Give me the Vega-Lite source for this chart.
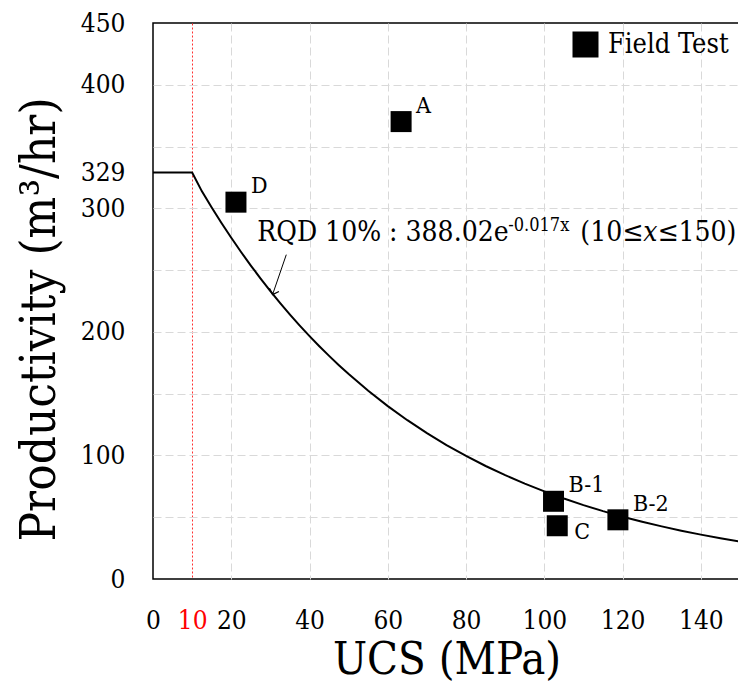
{
  "$schema": "https://vega.github.io/schema/vega-lite/v6.json",
  "width": 587,
  "height": 556,
  "autosize": "none",
  "padding": {"left": 153, "top": 23, "right": 0, "bottom": 114},
  "background": "white",
  "config": {
    "view": {"stroke": "black", "strokeWidth": 1.5},
    "font": "DejaVu Serif Condensed",
    "text": {"font": "DejaVu Serif Condensed", "color": "black"}
  },
  "datasets": {
    "curve": [
      {"x": 0, "y": 329}, {"x": 10, "y": 329}, {"x": 12.5, "y": 313.73}, {"x": 15, "y": 300.68},
      {"x": 17.5, "y": 288.17}, {"x": 20, "y": 276.18}, {"x": 22.5, "y": 264.69}, {"x": 25, "y": 253.68},
      {"x": 27.5, "y": 243.12}, {"x": 30, "y": 233.01}, {"x": 32.5, "y": 223.31}, {"x": 35, "y": 214.02},
      {"x": 37.5, "y": 205.12}, {"x": 40, "y": 196.58}, {"x": 42.5, "y": 188.4}, {"x": 45, "y": 180.56},
      {"x": 47.5, "y": 173.05}, {"x": 50, "y": 165.85}, {"x": 55, "y": 152.33}, {"x": 60, "y": 139.92},
      {"x": 65, "y": 128.52}, {"x": 70, "y": 118.04}, {"x": 75, "y": 108.43}, {"x": 80, "y": 99.59},
      {"x": 85, "y": 91.47}, {"x": 90, "y": 84.02}, {"x": 95, "y": 77.17}, {"x": 100, "y": 70.89},
      {"x": 105, "y": 65.11}, {"x": 110, "y": 59.8}, {"x": 115, "y": 54.93}, {"x": 120, "y": 50.45},
      {"x": 125, "y": 46.34}, {"x": 130, "y": 42.57}, {"x": 135, "y": 39.1}, {"x": 140, "y": 35.91},
      {"x": 145, "y": 32.99}, {"x": 150, "y": 30.3}
    ],
    "field": [
      {"x": 63.4, "y": 370.2, "label": "A", "series": "Field Test"},
      {"x": 21.2, "y": 305.0, "label": "D", "series": "Field Test"},
      {"x": 102.35, "y": 62.9, "label": "B-1", "series": "Field Test"},
      {"x": 103.3, "y": 43.1, "label": "C", "series": "Field Test"},
      {"x": 118.8, "y": 47.9, "label": "B-2", "series": "Field Test"}
    ],
    "note": [
      {"x": 26.65, "y": 273.3, "t": "RQD 10% : 388.02e"},
      {"x": 109.2, "y": 273.3, "t": "(10≤"},
      {"x": 128.9, "y": 273.3, "t": "≤150)"}
    ],
    "noteSup": [{"x": 90.8, "y": 281.4, "t": "-0.017x"}],
    "noteItalic": [{"x": 125.3, "y": 273.3, "t": "x"}],
    "arrow": [{"x": 34.06, "y": 262.5, "x2": 30.56, "y2": 230.2}],
    "arrowHead": [{"x": 30.56, "y": 230.2}]
  },
  "encoding": {
    "x": {
      "field": "x", "type": "quantitative",
      "scale": {"domain": [0, 150], "nice": false, "zero": false},
      "axis": {
        "title": "UCS (MPa)",
        "values": [0, 10, 20, 40, 60, 80, 100, 120, 140],
        "ticks": false, "domain": false,
        "labelFont": "DejaVu Serif Condensed", "labelFontSize": 26,
        "labelColor": {"condition": {"test": "datum.value === 10", "value": "#ff0000"}, "value": "#000000"},
        "labelPadding": 28, "labelFlush": false, "labelOverlap": false, "labelBound": false,
        "grid": true,
        "gridColor": {"condition": {"test": "datum.value === 10", "value": "#ff3030"}, "value": "#d9d9d9"},
        "gridDash": {"condition": {"test": "datum.value === 10", "value": [2, 2]}, "value": [8, 4]},
        "gridOpacity": {"condition": {"test": "datum.value === 0", "value": 0}, "value": 1},
        "gridWidth": 1,
        "titleFont": "DejaVu Serif Condensed", "titleFontSize": 45, "titleFontWeight": "normal",
        "titleColor": "black", "titleX": 293.5, "titleY": 94, "titleAlign": "center",
        "titleBaseline": "alphabetic", "titleAnchor": null
      }
    },
    "y": {
      "field": "y", "type": "quantitative",
      "scale": {"domain": [0, 450], "nice": false, "zero": false},
      "axis": {
        "title": "Productivity (m³/hr)",
        "values": [0, 50, 100, 150, 200, 250, 300, 329, 350, 400, 450],
        "labelExpr": "(datum.value % 100 === 0 || datum.value === 329 || datum.value === 450) ? datum.label : ''",
        "ticks": false, "domain": false,
        "labelFont": "DejaVu Serif Condensed", "labelFontSize": 26, "labelColor": "black",
        "labelPadding": 28, "labelOverlap": false, "labelBound": false, "labelFlush": false,
        "grid": true,
        "gridColor": "#d9d9d9",
        "gridOpacity": {"condition": {"test": "datum.value === 329 || datum.value === 0 || datum.value === 450", "value": 0}, "value": 1},
        "gridDash": [8, 4], "gridWidth": 1,
        "titleFont": "DejaVu Serif Condensed", "titleFontSize": 49, "titleFontWeight": "normal",
        "titleColor": "black", "titleX": -98.4, "titleY": 296, "titleAlign": "center",
        "titleBaseline": "alphabetic", "titleAngle": -90, "titleAnchor": null
      }
    }
  },
  "layer": [
    {
      "data": {"name": "curve"},
      "mark": {"type": "line", "color": "black", "strokeWidth": 2, "interpolate": "linear"}
    },
    {
      "data": {"name": "field"},
      "mark": {"type": "point", "shape": "square", "filled": true, "size": 441, "opacity": 1},
      "encoding": {
        "color": {
          "field": "series", "type": "nominal",
          "scale": {"range": ["black"]},
          "legend": {
            "orient": "none", "legendX": 419, "legendY": 8, "title": null,
            "symbolType": "square", "symbolSize": 600, "symbolFillColor": "black",
            "symbolStrokeColor": "black", "symbolOpacity": 1,
            "labelFont": "DejaVu Serif Condensed", "labelFontSize": 27, "labelOffset": 9,
            "labelColor": "black", "padding": 0
          }
        }
      }
    },
    {
      "data": {"name": "field"},
      "transform": [{"filter": "datum.label !== 'C'"}],
      "mark": {"type": "text", "align": "left", "baseline": "alphabetic", "dx": 15, "dy": -9, "fontSize": 23},
      "encoding": {"text": {"field": "label"}}
    },
    {
      "data": {"name": "field"},
      "transform": [{"filter": "datum.label === 'C'"}],
      "mark": {"type": "text", "align": "left", "baseline": "alphabetic", "dx": 17, "dy": 13, "fontSize": 23},
      "encoding": {"text": {"field": "label"}}
    },
    {
      "data": {"name": "note"},
      "mark": {"type": "text", "align": "left", "baseline": "alphabetic", "fontSize": 28},
      "encoding": {"text": {"field": "t"}}
    },
    {
      "data": {"name": "noteSup"},
      "mark": {"type": "text", "align": "left", "baseline": "alphabetic", "fontSize": 18},
      "encoding": {"text": {"field": "t"}}
    },
    {
      "data": {"name": "noteItalic"},
      "mark": {"type": "text", "align": "left", "baseline": "alphabetic", "fontSize": 28, "fontStyle": "italic"},
      "encoding": {"text": {"field": "t"}}
    },
    {
      "data": {"name": "arrow"},
      "mark": {"type": "rule", "color": "black", "strokeWidth": 1},
      "encoding": {"x2": {"field": "x2"}, "y2": {"field": "y2"}}
    },
    {
      "data": {"name": "arrowHead"},
      "mark": {"type": "point", "shape": "M-1,-1L0,0L1,-1", "size": 100, "angle": 19, "filled": false, "color": "black", "strokeWidth": 1.2, "opacity": 1}
    }
  ]
}
